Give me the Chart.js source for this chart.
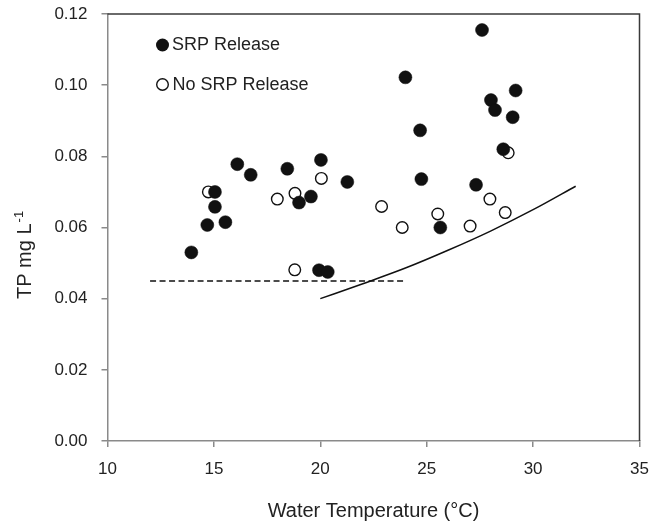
<!DOCTYPE html>
<html>
<head>
<meta charset="utf-8">
<script src="https://cdn.jsdelivr.net/npm/chart.js@4/dist/chart.umd.min.js"></script>
<style>
html,body{margin:0;padding:0;background:#fff;}
#wrap{width:663px;height:524px;position:relative;}
</style>
</head>
<body>
<div id="wrap"><canvas id="c" width="663" height="524"></canvas></div>
<script>
// ---- data ----
const srpTemp = [16.10,16.73,18.45,20.03,21.27,15.05,15.05,14.69,15.54,19.00,19.56,13.94,19.94,20.35,
                 27.60,24.00,29.18,28.02,28.21,29.04,24.69,28.60,24.75,27.32,25.64];
const srpTP   = [0.0778,0.0748,0.0765,0.0790,0.0728,0.0700,0.0658,0.0607,0.0615,0.0670,0.0687,0.0530,0.0480,0.0475,
                 0.1155,0.1022,0.0985,0.0958,0.0930,0.0910,0.0873,0.0820,0.0736,0.0720,0.0600];
const noTemp  = [14.74,17.98,18.81,20.05,22.88,18.80,23.85,28.83,27.97,25.52,28.69,27.04];
const noTP    = [0.0700,0.0680,0.0696,0.0738,0.0659,0.0481,0.0600,0.0810,0.0680,0.0638,0.0642,0.0604];
const dashTemp = [12, 24];
const dashTP   = [0.045, 0.045];
const curveTemp = [20, 22, 24, 26, 28, 30, 32];
const curveTP   = [0.0400, 0.0442, 0.0486, 0.0536, 0.0590, 0.0650, 0.0716];
const xTicks = [10, 15, 20, 25, 30, 35];
const yTicks = [0, 0.02, 0.04, 0.06, 0.08, 0.10, 0.12];
const seriesNames = ['SRP Release', 'No SRP Release'];

const FONT = "'Liberation Sans', Arial, sans-serif";
const TXT = '#222222';
const AXIS = '#8a8a8a';
const toXY = (xs, ys) => xs.map((x, i) => ({x: x, y: ys[i]}));

const frame = {
  id: 'frame',
  afterDraw(chart) {
    const {ctx, chartArea: a} = chart;
    ctx.save();
    ctx.strokeStyle = '#3a3a3a';
    ctx.lineWidth = 1.5;
    ctx.beginPath();
    ctx.moveTo(a.left, a.top);
    ctx.lineTo(a.right, a.top);
    ctx.lineTo(a.right, a.bottom);
    ctx.stroke();
    // legend
    ctx.font = '18px ' + FONT;
    ctx.textBaseline = 'middle';
    ctx.beginPath(); ctx.arc(162.5, 45, 6.5, 0, Math.PI * 2); ctx.fillStyle = '#111'; ctx.fill();
    ctx.fillStyle = TXT; ctx.fillText(seriesNames[0], 172, 45);
    ctx.beginPath(); ctx.arc(162.5, 84.5, 5.8, 0, Math.PI * 2); ctx.fillStyle = '#fff'; ctx.fill();
    ctx.lineWidth = 1.4; ctx.strokeStyle = '#111'; ctx.stroke();
    ctx.fillStyle = TXT; ctx.fillText(seriesNames[1], 172.5, 85);
    // y title with superscript
    ctx.translate(24, 299);
    ctx.rotate(-Math.PI / 2);
    ctx.textBaseline = 'alphabetic';
    ctx.textAlign = 'left';
    ctx.font = '20px ' + FONT;
    const main = 'TP mg L';
    const wMain = ctx.measureText(main).width;
    ctx.fillText(main, 0, 7.2);
    ctx.font = '13px ' + FONT;
    ctx.fillText('-1', wMain + 1, -1);
    ctx.restore();
  }
};

new Chart(document.getElementById('c'), {
  type: 'scatter',
  data: {
    datasets: [
      {label: seriesNames[0], data: toXY(srpTemp, srpTP), pointRadius: 6.5, pointBackgroundColor: '#111',
       pointBorderColor: '#111', pointBorderWidth: 0.5, showLine: false},
      {label: seriesNames[1], data: toXY(noTemp, noTP), pointRadius: 5.8, pointBackgroundColor: '#fff',
       pointBorderColor: '#111', pointBorderWidth: 1.4, showLine: false},
      {label: 'dash', data: toXY(dashTemp, dashTP), showLine: true, pointRadius: 0, borderColor: '#111',
       borderWidth: 1.5, borderDash: [6, 3.5]},
      {label: 'curve', data: toXY(curveTemp, curveTP), showLine: true, pointRadius: 0, borderColor: '#111',
       borderWidth: 1.5, cubicInterpolationMode: 'monotone'}
    ]
  },
  options: {
    responsive: false,
    animation: false,
    events: [],
    layout: {padding: {left: 0, right: 23.5, top: 14, bottom: 0}},
    plugins: {legend: {display: false}, tooltip: {enabled: false}},
    scales: {
      x: {
        type: 'linear', min: 10, max: 35,
        afterBuildTicks: s => { s.ticks = xTicks.map(v => ({value: v})); },
        afterFit: s => { s.height = 83; },
        ticks: {color: TXT, font: {family: FONT, size: 17}, padding: 12, maxRotation: 0},
        grid: {drawOnChartArea: false, drawTicks: true, tickLength: 6, color: AXIS, lineWidth: 1.5},
        border: {color: AXIS, width: 1.5},
        title: {display: true, text: 'Water Temperature (°C)', color: TXT,
                font: {family: FONT, size: 20}, padding: {top: 0, bottom: 1}}
      },
      y: {
        type: 'linear', min: 0, max: 0.12,
        afterBuildTicks: s => { s.ticks = yTicks.map(v => ({value: v})); },
        afterFit: s => { s.width = 107.5; s.paddingTop = 0; s.paddingBottom = 0; },
        ticks: {color: TXT, font: {family: FONT, size: 17}, padding: 14, callback: v => Number(v).toFixed(2)},
        grid: {drawOnChartArea: false, drawTicks: true, tickLength: 6, color: AXIS, lineWidth: 1.5},
        border: {color: AXIS, width: 1.5}
      }
    }
  },
  plugins: [frame]
});
</script>
</body>
</html>
